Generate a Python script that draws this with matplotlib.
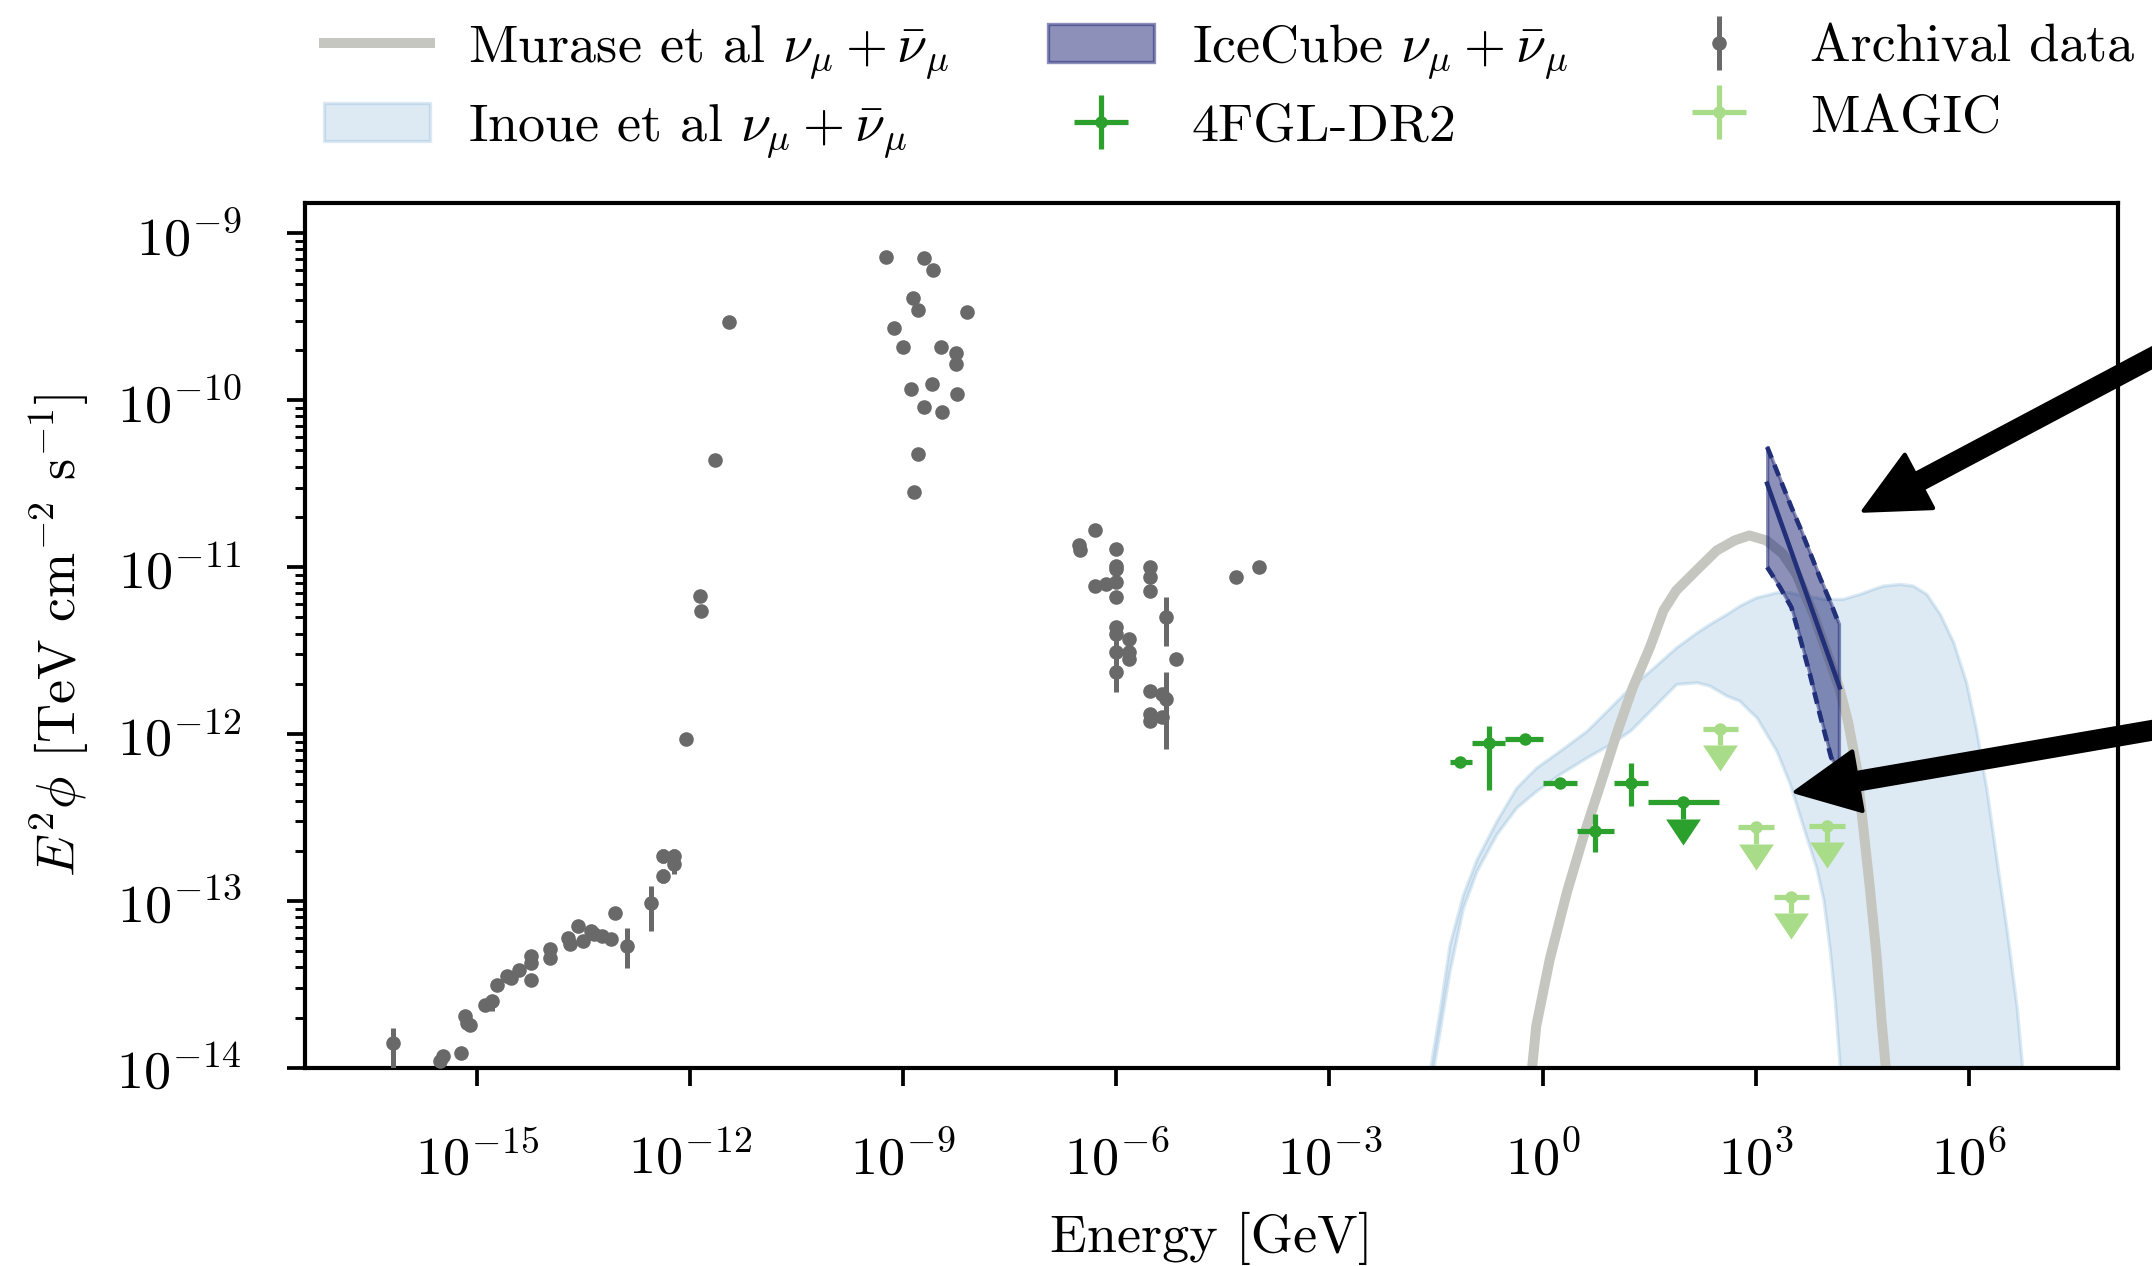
import matplotlib
matplotlib.use("Agg")
import matplotlib.pyplot as plt
from matplotlib import ticker
import numpy as np

plt.rcParams.update({
    "font.family": ["cmr10", "DejaVu Serif"],
    "mathtext.fontset": "cm",
    "axes.formatter.use_mathtext": True,
    "font.size": 13,
    "axes.linewidth": 1.0,
})

# ---- data (log10 values: E in GeV, E^2 phi in TeV cm^-2 s^-1) ----
# archival multiwavelength data
arch_logE = [-16.18, -15.52, -15.47, -15.22, -15.17, -15.13, -15.09, -14.88, -14.78, -14.71,
             -14.57, -14.52, -14.40, -14.24, -14.24, -14.24, -13.97, -13.97, -13.71, -13.69,
             -13.57, -13.51, -13.39, -13.35, -13.23, -13.11, -13.05, -12.88, -12.54, -12.38,
             -12.38, -12.22, -12.22, -12.06, -11.86, -11.84, -11.65, -11.45,
             -9.24, -8.70, -8.58, -8.86, -8.79, -8.10, -9.13, -9.00, -8.46, -8.26,
             -8.26, -8.89, -8.59, -8.24, -8.70, -8.45, -8.79, -8.85,
             -6.30, -6.53, -6.51, -6.01, -6.01, -6.01, -5.53, -5.53, -5.53, -6.30,
             -6.14, -6.00, -6.01, -5.30, -6.01, -6.01, -5.82, -6.01, -5.82, -5.82,
             -5.16, -6.01, -5.53, -5.36, -5.30, -5.53, -5.53, -5.36, -4.31, -3.99]
arch_logF = [-13.85, -13.96, -13.93, -13.91, -13.69, -13.73, -13.74, -13.62, -13.60, -13.50,
             -13.45, -13.46, -13.41, -13.47, -13.37, -13.33, -13.29, -13.34, -13.22, -13.26,
             -13.15, -13.24, -13.18, -13.20, -13.21, -13.23, -13.07, -13.27, -13.01, -12.85,
             -12.73, -12.73, -12.78, -12.03, -11.17, -11.26, -10.36, -9.53,
             -9.14, -9.15, -9.22, -9.39, -9.46, -9.47, -9.57, -9.68, -9.68, -9.72,
             -9.78, -9.93, -9.90, -9.96, -10.04, -10.07, -10.32, -10.55,
             -10.78, -10.87, -10.90, -10.89, -10.99, -11.01, -11.00, -11.06, -11.14, -11.11,
             -11.10, -11.09, -11.18, -11.30, -11.36, -11.40, -11.43, -11.51, -11.51, -11.55,
             -11.55, -11.63, -11.74, -11.76, -11.79, -11.88, -11.92, -11.90, -11.06, -11.00]
# error bar half-lengths in dex (lower, upper); 0 where no bar is visible
arch_dlo = [0.20, 0.04, 0.03, 0, 0.02, 0, 0, 0.02, 0.06, 0,
            0, 0, 0, 0, 0, 0, 0, 0, 0, 0,
            0, 0, 0, 0, 0, 0, 0, 0.13, 0.17, 0.04,
            0.04, 0.04, 0.06, 0, 0, 0, 0, 0,
            0, 0, 0, 0, 0, 0, 0, 0, 0, 0,
            0, 0, 0, 0, 0, 0, 0, 0,
            0, 0, 0, 0, 0, 0, 0, 0, 0, 0,
            0, 0, 0, 0.17, 0, 0, 0, 0.09, 0, 0,
            0, 0.12, 0, 0, 0.30, 0, 0, 0, 0, 0]
arch_dhi = [0.09, 0.04, 0.03, 0, 0.02, 0, 0, 0.02, 0.03, 0,
            0, 0, 0, 0, 0, 0, 0, 0, 0, 0,
            0, 0, 0, 0, 0, 0, 0, 0.11, 0.10, 0.04,
            0.04, 0.04, 0.05, 0, 0, 0, 0, 0,
            0, 0, 0, 0, 0, 0, 0, 0, 0, 0,
            0, 0, 0, 0, 0, 0, 0, 0,
            0, 0, 0, 0, 0, 0, 0, 0, 0, 0,
            0, 0, 0, 0.12, 0, 0, 0, 0.17, 0, 0,
            0, 0.05, 0, 0, 0.16, 0, 0, 0, 0, 0]

# 4FGL-DR2 band fluxes (last one is an upper limit)
fgl_E = [0.0698, 0.175, 0.561, 1.78, 5.53, 17.8]
fgl_Elo = [0.05, 0.1, 0.3, 1.0, 3.0, 10.0]
fgl_Ehi = [0.1, 0.3, 1.0, 3.0, 10.0, 30.0]
fgl_F = [6.8e-13, 8.9e-13, 9.4e-13, 5.1e-13, 2.64e-13, 5.1e-13]
fgl_Flo = [0.3e-13, 4.3e-13, 0.5e-13, 0.35e-13, 0.67e-13, 1.4e-13]
fgl_Fhi = [0.3e-13, 2.3e-13, 0.5e-13, 0.35e-13, 0.68e-13, 1.63e-13]
fgl_ul_E = [94.6]
fgl_ul_Elo = [30.0]
fgl_ul_Ehi = [300.0]
fgl_ul_F = [3.9e-13]

# MAGIC upper limits
magic_E = [316.0, 1000.0, 3160.0, 10000.0]
magic_Elo = [178.0, 562.0, 1780.0, 5620.0]
magic_Ehi = [562.0, 1780.0, 5620.0, 17800.0]
magic_F = [1.07e-12, 2.76e-13, 1.06e-13, 2.81e-13]

# Murase et al. model
murase_logE = [-0.16, -0.09, 0.10, 0.34, 0.57, 0.80, 1.04, 1.27, 1.51, 1.70, 1.88, 2.21, 2.45,
               2.70, 2.91, 3.15, 3.38, 3.57, 3.81, 4.04, 4.18, 4.30, 4.42, 4.51, 4.60, 4.70,
               4.77, 4.84]
murase_logF = [-14.05, -13.75, -13.35, -12.95, -12.62, -12.32, -12.00, -11.72, -11.48, -11.26,
               -11.14, -11.00, -10.90, -10.84, -10.81, -10.84, -10.92, -11.04, -11.28, -11.56,
               -11.73, -11.93, -12.20, -12.55, -12.90, -13.33, -13.72, -14.05]

# Inoue et al. model band
inoue_logE = [-1.60, -1.54, -1.45, -1.31, -1.12, -0.93, -0.65, -0.37, -0.09, 0.24, 0.62, 0.95,
              1.23, 1.51, 1.88, 2.17, 2.35, 2.59, 2.77, 2.91, 3.01, 3.29, 3.48, 3.67, 3.85,
              3.95, 4.04, 4.11, 4.18, 4.22, 4.46, 4.65, 4.79, 5.03, 5.21, 5.40, 5.59, 5.78,
              5.96, 6.10, 6.25, 6.39, 6.53, 6.67, 6.75, 6.80]
inoue_hi = [-14.05, -13.89, -13.66, -13.26, -12.96, -12.75, -12.52, -12.32, -12.20, -12.10,
            -11.98, -11.84, -11.72, -11.62, -11.48, -11.39, -11.34, -11.28, -11.23, -11.20,
            -11.18, -11.15, -11.15, -11.17, -11.18, -11.19, -11.19, -11.19, -11.19, -11.19,
            -11.16, -11.13, -11.11, -11.10, -11.11, -11.16, -11.28, -11.45, -11.69, -11.97,
            -12.34, -12.76, -13.17, -13.63, -14.00, -14.20]
inoue_lo = [-16.0, -14.01, -13.78, -13.42, -13.04, -12.82, -12.60, -12.44, -12.34, -12.24,
            -12.14, -12.06, -11.98, -11.86, -11.70, -11.69, -11.71, -11.77, -11.80, -11.86,
            -11.90, -12.10, -12.30, -12.56, -12.80, -12.99, -13.29, -13.59, -13.99, -16.0,
            -16.0, -16.0, -16.0, -16.0, -16.0, -16.0, -16.0, -16.0, -16.0, -16.0,
            -16.0, -16.0, -16.0, -16.0, -16.0, -16.0]

# IceCube nu_mu + anti-nu_mu butterfly
ic_logE = [3.16, 3.34, 3.50, 3.62, 3.76, 3.90, 4.06, 4.17]
ic_hi = [-10.28, -10.47, -10.64, -10.76, -10.91, -11.06, -11.22, -11.34]
ic_lo = [-11.00, -11.12, -11.24, -11.42, -11.64, -11.88, -12.14, -12.22]
ic_best_logE = [3.16, 4.18]
ic_best_logF = [-10.50, -11.72]

x_tick_vals = [1e-15, 1e-12, 1e-9, 1e-6, 1e-3, 1e0, 1e3, 1e6]
ul_frac = 0.2

c_murase = "#c6c6c0"
c_inoue = "tab:blue"
c_ice = "#1c2575"
c_ice_line = "#22307a"
c_fgl = "tab:green"
c_magic = "#a8dc88"
c_arch = "dimgray"

fig = plt.figure(figsize=(2152 / 300, 1266 / 300), dpi=300)
ax = fig.add_axes([0.1417, 0.1564, 0.8425, 0.6833])
ax.set_xscale("log")
ax.set_yscale("log")

# Inoue band
inoue = ax.fill_between(10 ** np.array(inoue_logE), 10 ** np.array(inoue_lo),
                        10 ** np.array(inoue_hi), color=c_inoue, alpha=0.15, lw=0.8,
                        zorder=1)

# Murase line
murase, = ax.plot(10 ** np.array(murase_logE), 10 ** np.array(murase_logF),
                  color=c_murase, lw=2.4, zorder=2)

# IceCube butterfly
ice_E = 10 ** np.array(ic_logE)
ice = ax.fill_between(ice_E, 10 ** np.array(ic_lo), 10 ** np.array(ic_hi),
                      color=c_ice, alpha=0.5, lw=0.8, zorder=3)
ax.plot(ice_E, 10 ** np.array(ic_hi), color=c_ice_line, lw=1.1, ls=(0, (2.6, 1.6)), zorder=3)
ax.plot(ice_E, 10 ** np.array(ic_lo), color=c_ice_line, lw=1.1, ls=(0, (2.6, 1.6)), zorder=3)
ax.plot(10 ** np.array(ic_best_logE), 10 ** np.array(ic_best_logF), color=c_ice_line,
        lw=1.1, zorder=3)

# archival data
aE = 10 ** np.array(arch_logE)
aF = 10 ** np.array(arch_logF)
a_err = [aF - aF * 10 ** -np.array(arch_dlo), aF * 10 ** np.array(arch_dhi) - aF]
arch = ax.errorbar(aE, aF, yerr=a_err, fmt="o", color=c_arch, ms=3.5, mew=0,
                   elinewidth=1.2, capsize=0, zorder=4)

# 4FGL-DR2
fE = np.array(fgl_E)
fgl = ax.errorbar(fE, fgl_F, xerr=[fE - np.array(fgl_Elo), np.array(fgl_Ehi) - fE],
                  yerr=[fgl_Flo, fgl_Fhi], fmt="o", color=c_fgl, ms=3, mew=0,
                  elinewidth=1.25, capsize=0, zorder=4)
uE = np.array(fgl_ul_E)
uF = np.array(fgl_ul_F)
ax.errorbar(uE, uF, xerr=[uE - np.array(fgl_ul_Elo), np.array(fgl_ul_Ehi) - uE],
            yerr=[uF * ul_frac, uF * 0], fmt="o", color=c_fgl, ms=3, mew=0,
            elinewidth=1.25, capsize=0, zorder=4)

# MAGIC upper limits
mE = np.array(magic_E)
mF = np.array(magic_F)
magic = ax.errorbar(mE, mF, xerr=[mE - np.array(magic_Elo), np.array(magic_Ehi) - mE],
                    yerr=[mF * ul_frac, mF * 0], fmt="o", color=c_magic, ms=3, mew=0,
                    elinewidth=1.25, capsize=0, zorder=4)

# filled arrow heads for the upper limits
tri = [(-1, 0), (1, 0), (0, -1.5), (-1, 0)]
ax.plot(uE, uF * (1 - ul_frac), ls="none", marker=tri, ms=12.5, color=c_fgl, mew=0, zorder=4)
ax.plot(mE, mF * (1 - ul_frac), ls="none", marker=tri, ms=12.5, color=c_magic, mew=0, zorder=4)

# arrows pointing in from the right
arrow_kw = dict(facecolor="black", edgecolor="black", width=4, headwidth=14.5,
                headlength=15, shrink=0)
ax.annotate("", xy=(3.3e4, 2.18e-11), xytext=(1.15e12, 1.1e-9),
            arrowprops=arrow_kw, annotation_clip=False, zorder=6)
ax.annotate("", xy=(3.65e3, 4.51e-13), xytext=(1.15e12, 1.9e-12),
            arrowprops=arrow_kw, annotation_clip=False, zorder=6)

ax.set_xlim(3.83e-18, 1.25e8)
ax.set_ylim(1e-14, 1.52e-9)
ax.set_xticks(x_tick_vals)
ax.xaxis.set_minor_locator(ticker.NullLocator())
ax.tick_params(which="major", length=4.3, width=0.9, pad=11)
ax.tick_params(which="minor", length=2.4, width=0.7)

ax.set_xlabel("Energy [GeV]", labelpad=6.5)
ax.set_ylabel(r"$E^2\phi$ [TeV cm$^{-2}$ s$^{-1}$]", labelpad=6)

handles = [murase, inoue, ice, fgl, arch, magic]
labels = [r"Murase et al $\nu_\mu+\bar{\nu}_\mu$", r"Inoue et al $\nu_\mu+\bar{\nu}_\mu$",
          r"IceCube $\nu_\mu+\bar{\nu}_\mu$", "4FGL-DR2", "Archival data", "MAGIC"]
fig.legend(handles, labels, loc="upper left", bbox_to_anchor=(0.128, 1.021), ncol=3,
           frameon=False, handlelength=1.95, handletextpad=0.7, columnspacing=1.82,
           labelspacing=0.4)

fig.savefig("out.png", dpi=300)
